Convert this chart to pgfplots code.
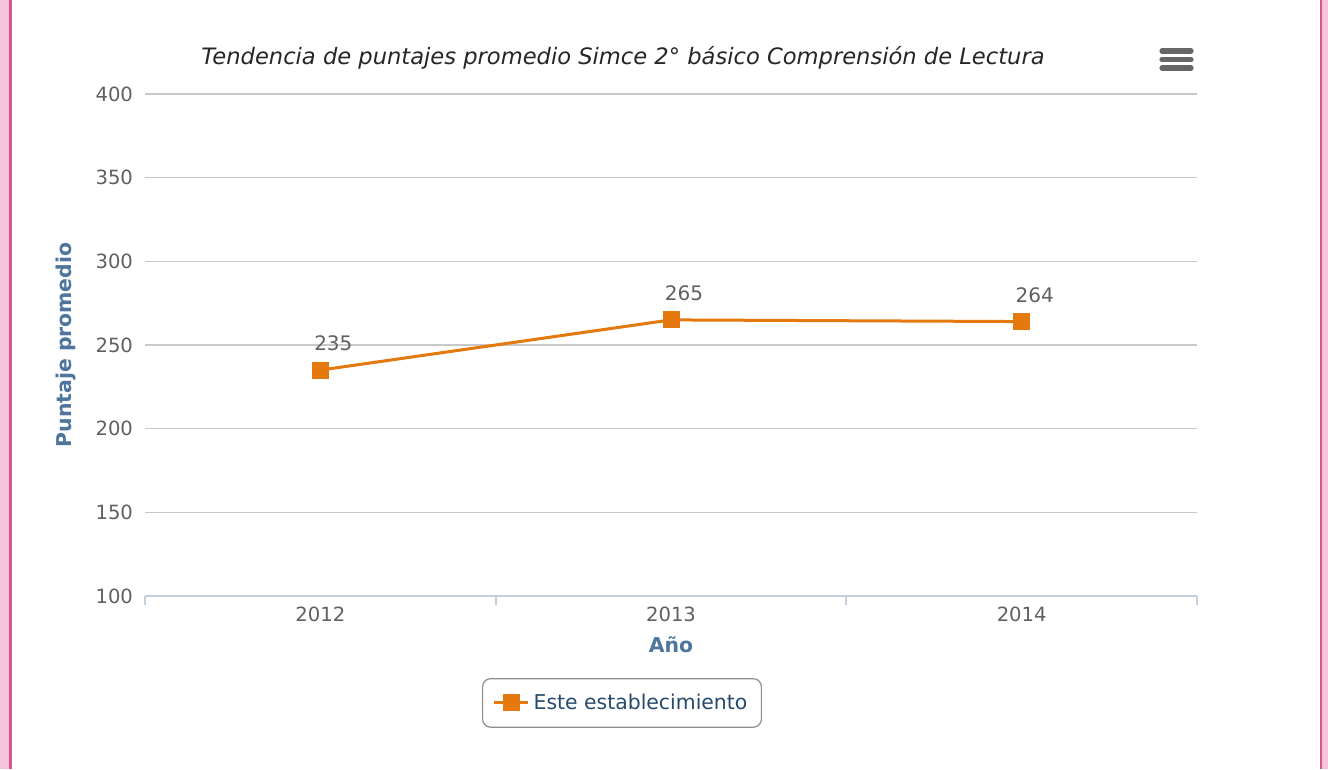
\documentclass[border=0pt]{standalone}
\usepackage{pgfplots}
\pgfplotsset{compat=1.18}
\usepackage{fontspec}
\setmainfont{DejaVu Sans}
\definecolor{lineorange}{HTML}{E6790D}
\definecolor{ticktext}{HTML}{606060}
\definecolor{axistitle}{HTML}{4D759E}
\definecolor{legendtext}{HTML}{274B6D}
\definecolor{axisblue}{HTML}{C0D0E0}
\definecolor{gridgrey}{HTML}{C8C8C8}
\definecolor{pinklight}{HTML}{F4C4DA}
\definecolor{pinkdark}{HTML}{D9538F}
\begin{document}
\begin{tikzpicture}[x=0.5bp,y=-0.5bp]
\fill[white] (0,0) rectangle (1328,769);
\path[use as bounding box] (0,0) rectangle (1328,769);
\fill[pinklight] (0,0) rectangle (9,769);
\fill[pinkdark] (9,0) rectangle (11.5,769);
\fill[pinkdark] (1319.5,0) rectangle (1322,769);
\fill[pinklight] (1322,0) rectangle (1328,769);
\node[font=\fontsize{11.3bp}{13bp}\selectfont\itshape, text=black!85] at (623,58) {Tendencia de puntajes promedio Simce 2° básico Comprensión de Lectura};
\foreach \yy in {51,59.5,68} \draw[line width=2.6bp, line cap=round, color=black!60] (1162,\yy) -- (1191,\yy);
\coordinate (O) at (145,596);
\begin{axis}[
  at={(O)}, anchor=south west,
  scale only axis, width=526bp, height=251bp,
  xmin=-0.5, xmax=2.5, ymin=100, ymax=400,
  xtick={0,1,2}, xticklabels={2012,2013,2014},
  minor xtick={-0.5,0.5,1.5,2.5},
  major tick length=0pt, minor tick length=4.5bp,
  tick align=outside,
  ytick={100,150,...,400},
  /pgf/number format/assume math mode=true,
  axis x line*=bottom, axis y line*=left,
  y axis line style={draw=none},
  x axis line style={color=axisblue, line width=1bp, -},
  xtick style={color=axisblue, line width=1bp},
  ytick style={draw=none},
  ymajorgrids, grid style={color=gridgrey, line width=0.8bp},
  tick label style={font=\fontsize{9.8bp}{12bp}\selectfont, text=ticktext},
  yticklabel style={xshift=-2.5bp},
  xticklabel style={yshift=-2bp},
  xlabel={Año}, ylabel={Puntaje promedio},
  label style={font=\fontsize{10.2bp}{12bp}\selectfont\bfseries, text=axistitle},
  xlabel style={at={(axis description cs:0.5,-0.0976)}, anchor=center},
  ylabel style={at={(axis description cs:-0.0751,0.5)}, anchor=center},
  legend style={at={(axis description cs:0.4534,-0.213)}, anchor=center,
    draw=black!45, rounded corners=4bp, line width=0.6bp,
    font=\fontsize{10.2bp}{12bp}\selectfont, text=legendtext,
    inner xsep=5bp, inner ysep=5.5bp},
  legend cell align=left,
  nodes near coords,
  every node near coord/.style={font=\fontsize{10bp}{12bp}\selectfont, text=ticktext, anchor=south, xshift=6.5bp, yshift=5.5bp},
]
\addplot[color=lineorange, line width=1.5bp, mark=square*, mark size=3.5bp, mark options={fill=lineorange, draw=lineorange}]
  coordinates {(0,235) (1,265) (2,264)};
\addlegendentry{Este establecimiento}
\end{axis}
\end{tikzpicture}
\end{document}
